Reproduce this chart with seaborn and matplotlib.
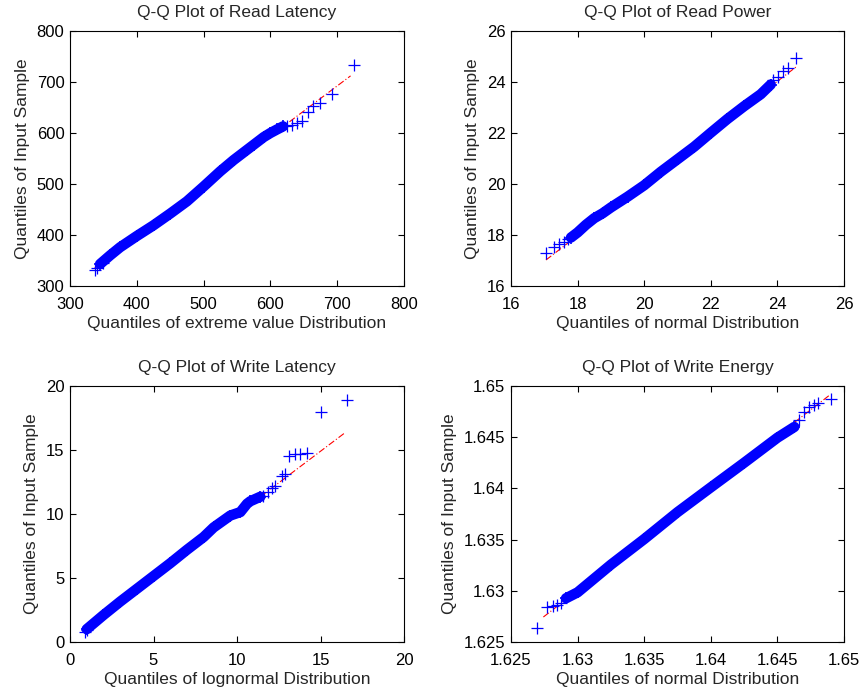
import matplotlib
matplotlib.use("Agg")
import matplotlib.pyplot as plt
import seaborn as sns

sns.set_style("ticks")
plt.rcParams['font.family'] = ['Liberation Sans', 'DejaVu Sans']

# ---------------- data ----------------
# Panel 1: Read Latency (extreme value)
rl_body_x = [345, 360, 375, 400, 425, 450, 475, 500, 525, 545, 565, 575, 590, 600, 610, 619]
rl_body_y = [343, 360, 376, 398, 419, 442, 466, 495, 525, 547, 567, 577, 592, 600, 607, 613]
rl_tail_x = [337.4, 340, 350, 624.4, 631.9, 639.4, 646.8, 656.8, 664.3, 674.3, 691.8, 725.6]
rl_tail_y = [331, 334.7, 344.5, 613.7, 615.7, 620, 623.5, 641.8, 653, 659.4, 675.9, 732.7]
rl_ref_x = [336, 720]
rl_ref_y = [334, 712]
rl_ticks = [300, 400, 500, 600, 700, 800]

# Panel 2: Read Power (normal)
rp_body_x = [17.80, 18.00, 18.25, 18.50, 18.75, 19.00, 19.50, 20.00, 20.50, 21.00, 21.50, 22.00, 22.50, 23.00, 23.50, 23.80]
rp_body_y = [17.90, 18.10, 18.40, 18.66, 18.85, 19.08, 19.50, 19.95, 20.48, 20.97, 21.46, 22.01, 22.55, 23.05, 23.52, 23.90]
rp_tail_x = [17.05, 17.30, 17.45, 17.58, 17.70, 23.87, 24.02, 24.17, 24.32, 24.57]
rp_tail_y = [17.31, 17.54, 17.65, 17.74, 17.83, 24.08, 24.18, 24.44, 24.54, 24.93]
rp_ref_x = [17.05, 24.57]
rp_ref_y = [17.02, 24.60]
rp_ticks = [16, 18, 20, 22, 24, 26]

# Panel 3: Write Latency (lognormal)
wl_body_x = [1.0, 2.0, 3.0, 4.0, 5.0, 6.0, 7.0, 8.0, 8.6, 9.6, 10.2, 10.6, 10.8, 11.4]
wl_body_y = [1.0, 2.1, 3.15, 4.15, 5.15, 6.15, 7.2, 8.2, 8.95, 9.88, 10.15, 10.8, 11.0, 11.35]
wl_tail_x = [0.9, 1.04, 11.58, 11.88, 12.08, 12.28, 12.67, 12.87, 13.13, 13.47, 13.77, 14.21, 15.01, 16.57]
wl_tail_y = [0.8, 0.95, 11.4, 11.72, 12.05, 12.19, 12.97, 13.1, 14.53, 14.66, 14.71, 14.79, 17.99, 18.9]
wl_ref_x = [0.9, 16.5]
wl_ref_y = [1.0, 16.38]
wl_ticks = [0, 5, 10, 15, 20]

# Panel 4: Write Energy (normal)
we_body_x = [1.62913, 1.6300, 1.6325, 1.6350, 1.6375, 1.6400, 1.6425, 1.6450, 1.64627]
we_body_y = [1.62927, 1.62985, 1.63255, 1.63505, 1.63768, 1.64010, 1.64250, 1.64495, 1.64600]
we_tail_x = [1.62695, 1.62770, 1.62813, 1.62845, 1.62875, 1.64664, 1.64702, 1.64740, 1.64777, 1.64805, 1.64905]
we_tail_y = [1.62634, 1.62845, 1.62852, 1.62858, 1.62878, 1.64668, 1.64749, 1.64792, 1.64814, 1.64837, 1.64870]
we_ref_x = [1.62743, 1.64893]
we_ref_y = [1.62744, 1.64912]
we_ticks = [1.625, 1.63, 1.635, 1.64, 1.645, 1.65]
we_tick_labels = ["1.625", "1.63", "1.635", "1.64", "1.645", "1.65"]

titles = ["Q-Q Plot of Read Latency", "Q-Q Plot of Read Power",
          "Q-Q Plot of Write Latency", "Q-Q Plot of Write Energy"]
xlabels = ["Quantiles of extreme value Distribution", "Quantiles of normal Distribution",
           "Quantiles of lognormal Distribution", "Quantiles of normal Distribution"]
ylabel = "Quantiles of Input Sample"

panels = [
    (rl_body_x, rl_body_y, rl_tail_x, rl_tail_y, rl_ref_x, rl_ref_y, rl_ticks, None),
    (rp_body_x, rp_body_y, rp_tail_x, rp_tail_y, rp_ref_x, rp_ref_y, rp_ticks, None),
    (wl_body_x, wl_body_y, wl_tail_x, wl_tail_y, wl_ref_x, wl_ref_y, wl_ticks, None),
    (we_body_x, we_body_y, we_tail_x, we_tail_y, we_ref_x, we_ref_y, we_ticks, we_tick_labels),
]

fig = plt.figure(figsize=(8.63, 6.92), dpi=100)
positions = [
    [70/863, 1-286/692, 334/863, 255/692],
    [511/863, 1-286/692, 333/863, 255/692],
    [70/863, 1-642/692, 334/863, 256/692],
    [511/863, 1-642/692, 333/863, 256/692],
]

BLUE = (0, 0, 1)
RED = (1, 0, 0)

for i, (bx, by, tx, ty, rx, ry, ticks, tlabels) in enumerate(panels):
    ax = fig.add_axes(positions[i])
    # red dash-dot reference line
    sns.lineplot(x=rx, y=ry, ax=ax, color=RED, linewidth=0.8,
                 linestyle=(0, (6, 2, 1, 2)), sort=False, zorder=2)
    # dense body of quantile points
    sns.lineplot(x=bx, y=by, ax=ax, color=BLUE, linewidth=7.5,
                 sort=False, zorder=3, solid_capstyle='round',
                 solid_joinstyle='round')
    sns.scatterplot(x=bx, y=by, ax=ax, marker='+', color=BLUE, s=85,
                    linewidth=1.2, zorder=4)
    # individual tail points
    sns.scatterplot(x=tx, y=ty, ax=ax, marker='+', color=BLUE, s=75,
                    linewidth=0.9, zorder=4)

    ax.set_xlim(ticks[0], ticks[-1])
    ax.set_ylim(ticks[0], ticks[-1])
    ax.set_xticks(ticks)
    ax.set_yticks(ticks)
    if tlabels is not None:
        ax.set_xticklabels(tlabels)
        ax.set_yticklabels(tlabels)
    ax.tick_params(direction='in', length=4, width=0.8, top=True, right=True,
                   labelsize=12, colors='black')
    ax.tick_params(axis='x', pad=8)
    ax.tick_params(axis='y', pad=4)
    for sp in ax.spines.values():
        sp.set_visible(True)
        sp.set_linewidth(0.8)
        sp.set_color('black')
    ax.set_title(titles[i], fontsize=12.5, pad=10)
    ax.set_xlabel(xlabels[i], fontsize=12.5, labelpad=3)
    ax.set_ylabel(ylabel, fontsize=12.5, labelpad=5)

fig.savefig("out.png", dpi=100)
